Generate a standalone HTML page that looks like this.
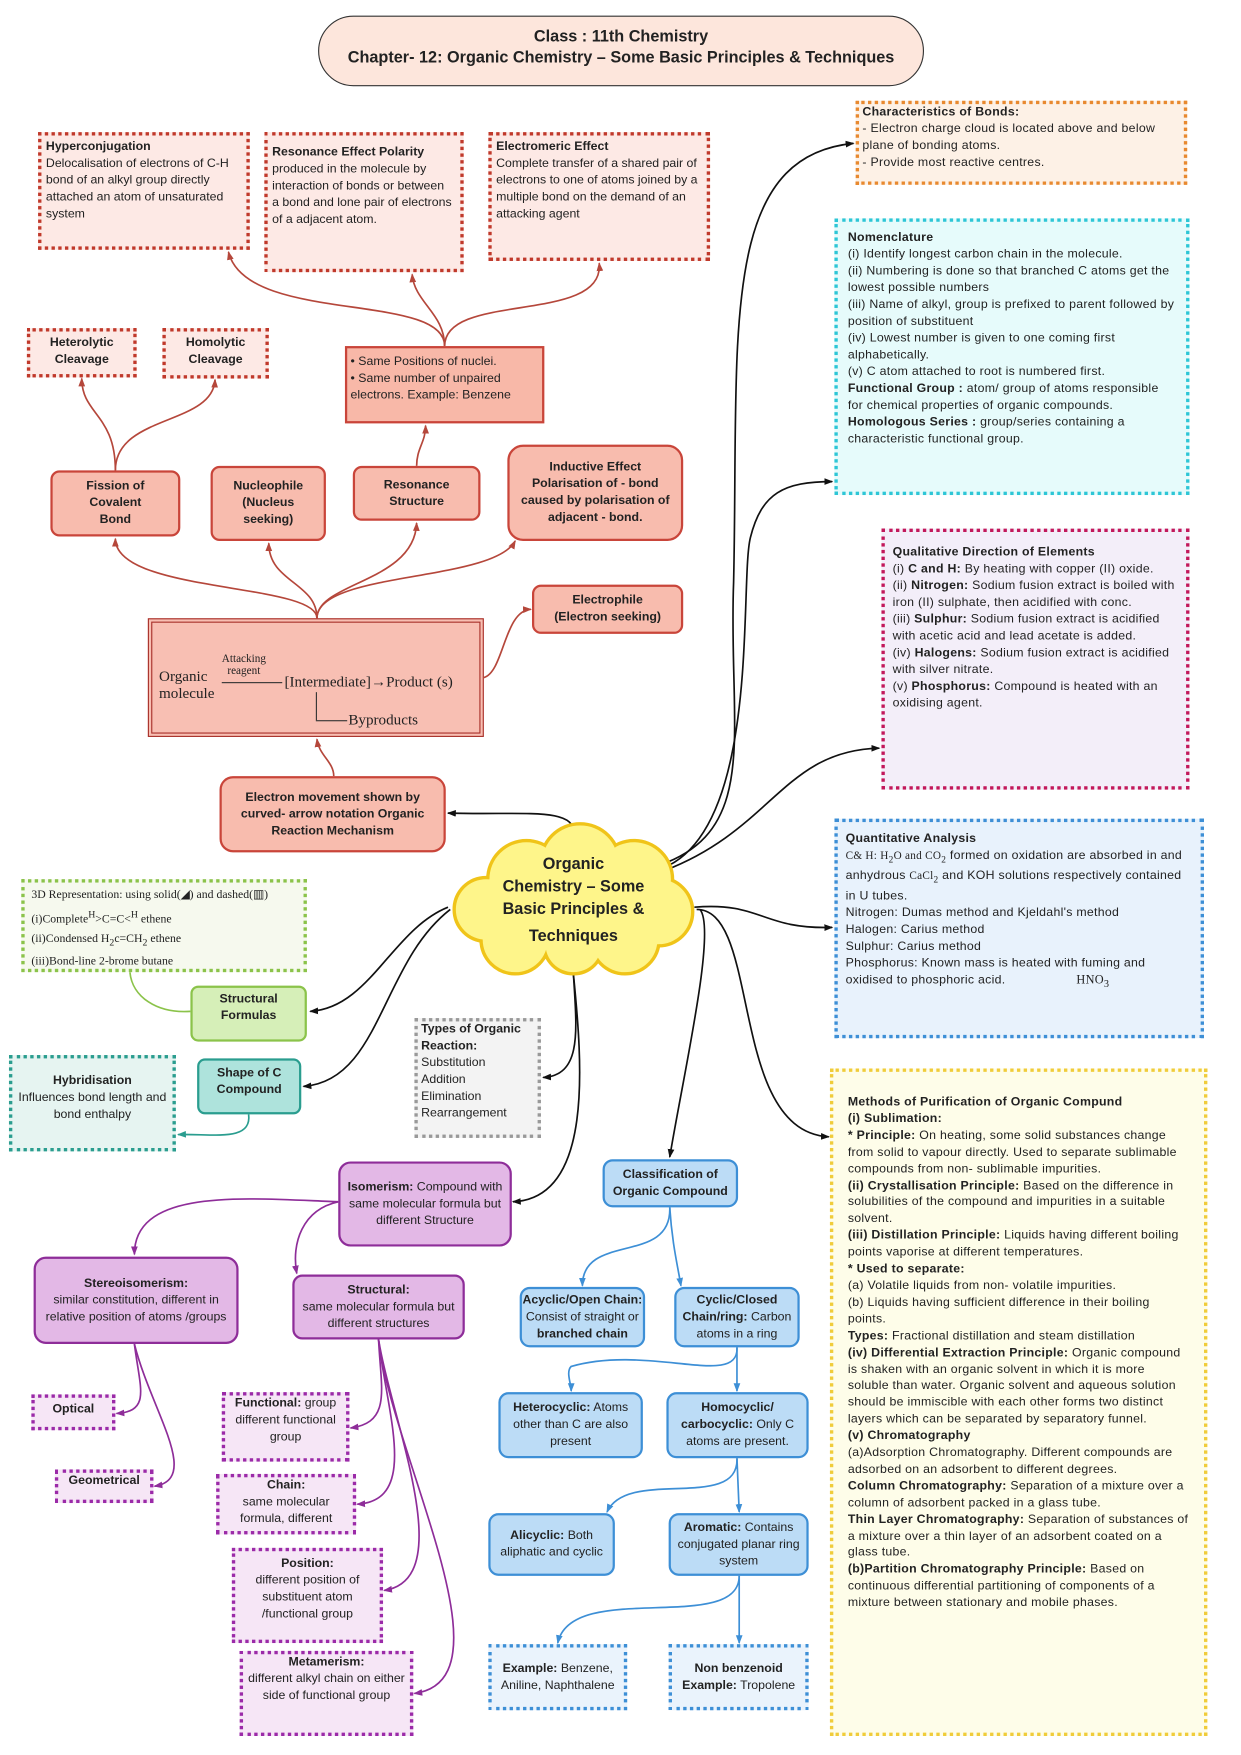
<!DOCTYPE html>
<html><head><meta charset="utf-8">
<style>
html,body{margin:0;padding:0;background:#fff;}
body{width:1241px;height:1755px;overflow:hidden;position:relative;}
#w{position:absolute;left:0;top:0;width:1108px;height:1567px;transform:scale(1.12);transform-origin:0 0;font-family:"Liberation Sans",sans-serif;font-size:11px;color:#222;line-height:15px;}
.b{position:absolute;box-sizing:border-box;}
.red{background:#f8bcae;border:2px solid #c9453a;border-radius:8px;text-align:center;font-weight:bold;display:flex;align-items:center;justify-content:center;}
.rd{background:#fde9e5;border:3px dotted #c0392b;padding:3px 4px;}
.pu{background:#e3b8e6;border:2px solid #8e2d99;border-radius:9px;text-align:center;display:flex;align-items:center;justify-content:center;}
.pd{background:#f6e6f6;border:3px dotted #9b2aa8;text-align:center;}
.bl{background:#bcdcf6;border:2px solid #3d8fd6;border-radius:9px;text-align:center;display:flex;align-items:center;justify-content:center;}
.bd{background:#eaf3fc;border:3px dotted #3d8fd6;text-align:center;}
.lt{letter-spacing:0.25px;}
b{font-weight:bold;}
svg{position:absolute;left:0;top:0;}
</style></head><body><div id="w">
<svg width="1100" height="1556" viewBox="0 0 1100 1556">
<defs>
<marker id="ak" markerWidth="8" markerHeight="8" refX="7" refY="4" orient="auto" markerUnits="userSpaceOnUse"><path d="M0,1 L8,4 L0,7 z" fill="#111"/></marker>
<marker id="ar" markerWidth="8" markerHeight="8" refX="7" refY="4" orient="auto" markerUnits="userSpaceOnUse"><path d="M0,1 L8,4 L0,7 z" fill="#b5473b"/></marker>
<marker id="ap" markerWidth="8" markerHeight="8" refX="7" refY="4" orient="auto" markerUnits="userSpaceOnUse"><path d="M0,1 L8,4 L0,7 z" fill="#8e2d99"/></marker>
<marker id="ab" markerWidth="8" markerHeight="8" refX="7" refY="4" orient="auto" markerUnits="userSpaceOnUse"><path d="M0,1 L8,4 L0,7 z" fill="#3d8fd6"/></marker>
<marker id="ag" markerWidth="8" markerHeight="8" refX="7" refY="4" orient="auto" markerUnits="userSpaceOnUse"><path d="M0,1 L8,4 L0,7 z" fill="#2a9d8f"/></marker>
</defs>
<g fill="none" stroke="#b5473b" stroke-width="1.5">
<path d="M397,309 C397,260 220,290 204,225" marker-end="url(#ar)"/>
<path d="M397,309 C397,280 370,270 368,245" marker-end="url(#ar)"/>
<path d="M397,309 C397,260 540,290 535,235" marker-end="url(#ar)"/>
<path d="M103,420 C103,370 73,370 73,338" marker-end="url(#ar)"/>
<path d="M103,420 C103,370 190,380 192,339" marker-end="url(#ar)"/>
<path d="M372,416 C372,400 380,395 380,380" marker-end="url(#ar)"/>
<path d="M283,552 C283,520 103,530 103,481" marker-end="url(#ar)"/>
<path d="M283,552 C283,520 240,520 240,485" marker-end="url(#ar)"/>
<path d="M283,552 C283,520 370,520 372,467" marker-end="url(#ar)"/>
<path d="M283,552 C283,510 440,520 460,483" marker-end="url(#ar)"/>
<path d="M432,605 C450,600 450,545 474,544" marker-end="url(#ar)"/>
<path d="M298,693 C298,680 285,675 283,660" marker-end="url(#ar)"/>
</g>
<g fill="none" stroke="#111" stroke-width="1.5">
<path d="M513,745 C513,720 470,728 400,726" marker-end="url(#ak)"/>
<path d="M590,772 C680,740 650,650 655,520 C660,300 640,140 762,128" marker-end="url(#ak)"/>
<path d="M592,775 C680,740 660,520 670,480 C680,440 700,430 743,430" marker-end="url(#ak)"/>
<path d="M594,777 C690,740 700,670 785,668" marker-end="url(#ak)"/>
<path d="M620,810 C680,805 680,830 743,828" marker-end="url(#ak)"/>
<path d="M622,812 C680,812 650,1010 740,1015" marker-end="url(#ak)"/>
<path d="M625,812 C640,830 610,960 598,1033" marker-end="url(#ak)"/>
<path d="M400,810 C350,830 330,900 277,903" marker-end="url(#ak)"/>
<path d="M402,812 C340,860 340,965 271,970" marker-end="url(#ak)"/>
<path d="M512,870 C515,920 520,960 485,962" marker-end="url(#ak)"/>
<path d="M512,870 C520,950 530,1070 458,1073" marker-end="url(#ak)"/>
</g>
<path d="M170,903 C140,905 118,890 116,868" fill="none" stroke="#8bc34a" stroke-width="1.5"/>
<path d="M222,995 C225,1020 190,1012 159,1013" fill="none" stroke="#2a9d8f" stroke-width="1.5" marker-end="url(#ag)"/>
<g fill="none" stroke="#8e2d99" stroke-width="1.5">
<path d="M302,1073 C220,1070 120,1060 120,1120" marker-end="url(#ap)"/>
<path d="M302,1073 C270,1080 260,1110 265,1137" marker-end="url(#ap)"/>
<path d="M120,1200 C125,1240 135,1260 104,1262" marker-end="url(#ap)"/>
<path d="M120,1200 C135,1260 180,1320 138,1327" marker-end="url(#ap)"/>
<path d="M338,1196 C340,1240 350,1270 313,1275" marker-end="url(#ap)"/>
<path d="M338,1196 C345,1260 375,1340 319,1343" marker-end="url(#ap)"/>
<path d="M338,1196 C350,1270 410,1410 343,1420" marker-end="url(#ap)"/>
<path d="M338,1196 C350,1300 460,1500 370,1512" marker-end="url(#ap)"/>
</g>
<g fill="none" stroke="#3d8fd6" stroke-width="1.5">
<path d="M598,1078 C600,1130 520,1100 520,1148" marker-end="url(#ab)"/>
<path d="M598,1078 C600,1110 605,1130 608,1148" marker-end="url(#ab)"/>
<path d="M658,1203 C660,1240 580,1200 510,1220 C505,1225 510,1235 510,1242" marker-end="url(#ab)"/>
<path d="M658,1203 L658,1242" marker-end="url(#ab)"/>
<path d="M658,1302 C660,1350 560,1310 542,1350" marker-end="url(#ab)"/>
<path d="M658,1302 L660,1350" marker-end="url(#ab)"/>
<path d="M660,1407 C660,1460 510,1410 498,1467" marker-end="url(#ab)"/>
<path d="M660,1407 L660,1467" marker-end="url(#ab)"/>
</g>
<g stroke="#f0c419" stroke-width="6" fill="#fef58a">
<circle cx="470" cy="785" r="33"/><circle cx="518" cy="771" r="34"/><circle cx="566" cy="785" r="33"/>
<circle cx="434" cy="812" r="27"/><circle cx="588" cy="814" r="29"/>
<circle cx="460" cy="839" r="29"/><circle cx="512" cy="843" r="25"/><circle cx="558" cy="839" r="29"/>
</g>
<g fill="#fef58a">
<circle cx="470" cy="785" r="33"/><circle cx="518" cy="771" r="34"/><circle cx="566" cy="785" r="33"/>
<circle cx="434" cy="812" r="27"/><circle cx="588" cy="814" r="29"/>
<circle cx="460" cy="839" r="29"/><circle cx="512" cy="843" r="25"/><circle cx="558" cy="839" r="29"/>
<rect x="440" y="780" width="148" height="63"/>
</g>
</svg>

<div class="b" style="left:284px;top:14px;width:541px;height:63px;border:1.5px solid #333;border-radius:32px;background:#fde6dc;text-align:center;font-weight:bold;font-size:14.5px;line-height:19px;padding-top:9px;">Class : 11th Chemistry<br>Chapter- 12: Organic Chemistry – Some Basic Principles &amp; Techniques</div>

<div class="b" style="left:402px;top:762px;width:220px;text-align:center;font-weight:bold;font-size:14.5px;line-height:20px;">Organic<br>Chemistry – Some<br>Basic Principles &amp;<br><span style="line-height:28px">Techniques</span></div>

<div class="b lt" style="left:764px;top:90px;width:296px;height:75px;background:#fdf1e6;border:3px dotted #e8892f;padding:0 3px;"><b>Characteristics of Bonds:</b><br>- Electron charge cloud is located above and below plane of bonding atoms.<br>- Provide most reactive centres.</div>

<div class="b lt" style="left:745px;top:195px;width:317px;height:247px;background:#e6fbfb;border:3px dotted #2dc6d6;padding:7px 9px;"><b>Nomenclature</b><br>(i) Identify longest carbon chain in the molecule.<br>(ii) Numbering is done so that branched C atoms get the lowest possible numbers<br>(iii) Name of alkyl, group is prefixed to parent followed by position of substituent<br>(iv) Lowest number is given to one coming first alphabetically.<br>(v) C atom attached to root is numbered first.<br><b>Functional Group :</b> atom/ group of atoms responsible for chemical properties of organic compounds.<br><b>Homologous Series :</b> group/series containing a characteristic functional group.</div>

<div class="b lt" style="left:787px;top:472px;width:275px;height:233px;background:#f3eef9;border:3px dotted #c2185b;padding:11px 7px;"><b>Qualitative Direction of Elements</b><br>(i) <b>C and H:</b> By heating with copper (II) oxide.<br>(ii) <b>Nitrogen:</b> Sodium fusion extract is boiled with iron (II) sulphate, then acidified with conc.<br>(iii) <b>Sulphur:</b> Sodium fusion extract is acidified with acetic acid and lead acetate is added.<br>(iv) <b>Halogens:</b> Sodium fusion extract is acidified with silver nitrate.<br>(v) <b>Phosphorus:</b> Compound is heated with an oxidising agent.</div>

<div class="b lt" style="left:745px;top:731px;width:330px;height:196px;background:#e8f2fc;border:3px dotted #3d8fd6;padding:8px 7px;"><b>Quantitative Analysis</b><br><span style="font-family:'Liberation Serif',serif;font-size:10px">C&amp; H: H<sub>2</sub>O and CO<sub>2</sub></span> formed on oxidation are absorbed in and anhydrous <span style="font-family:'Liberation Serif',serif;font-size:10px">CaCl<sub>2</sub></span> and KOH solutions respectively contained<br>in U tubes.<br>Nitrogen: Dumas method and Kjeldahl's method<br>Halogen: Carius method<br>Sulphur: Carius method<br>Phosphorus: Known mass is heated with fuming and oxidised to phosphoric acid. <span style="font-family:'Liberation Serif',serif;margin-left:60px">HNO<sub>3</sub></span></div>

<div class="b lt" style="left:741px;top:954px;width:337px;height:596px;background:#fefde9;border:3px dotted #f0cc3a;padding:20px 13px;line-height:14.9px;"><b>Methods of Purification of Organic Compund</b><br><b>(i) Sublimation:</b><br><b>* Principle:</b> On heating, some solid substances change from solid to vapour directly. Used to separate sublimable compounds from non- sublimable impurities.<br><b>(ii) Crystallisation Principle:</b> Based on the difference in solubilities of the compound and impurities in a suitable solvent.<br><b>(iii) Distillation Principle:</b> Liquids having different boiling points vaporise at different temperatures.<br><b>* Used to separate:</b><br>(a) Volatile liquids from non- volatile impurities.<br>(b) Liquids having sufficient difference in their boiling points.<br><b>Types:</b> Fractional distillation and steam distillation<br><b>(iv) Differential Extraction Principle:</b> Organic compound is shaken with an organic solvent in which it is more soluble than water. Organic solvent and aqueous solution should be immiscible with each other forms two distinct layers which can be separated by separatory funnel.<br><b>(v) Chromatography</b><br>(a)Adsorption Chromatography. Different compounds are adsorbed on an adsorbent to different degrees.<br><b>Column Chromatography:</b> Separation of a mixture over a column of adsorbent packed in a glass tube.<br><b>Thin Layer Chromatography:</b> Separation of substances of a mixture over a thin layer of an adsorbent coated on a glass tube.<br><b>(b)Partition Chromatography Principle:</b> Based on continuous differential partitioning of components of a mixture between stationary and mobile phases.</div>

<div class="b rd" style="left:34px;top:118px;width:189px;height:105px;"><b>Hyperconjugation</b><br>Delocalisation of electrons of C-H bond of an alkyl group directly attached an atom of unsaturated system</div>
<div class="b rd" style="left:236px;top:118px;width:178px;height:125px;padding-top:8px;"><b>Resonance Effect Polarity</b><br>produced in the molecule by interaction of bonds or between<br>a bond and lone pair of electrons of a adjacent atom.</div>
<div class="b rd" style="left:436px;top:118px;width:198px;height:115px;"><b>Electromeric Effect</b><br>Complete transfer of a shared pair of<br>electrons to one of atoms joined by a multiple bond on the demand of an attacking agent</div>
<div class="b rd" style="left:24px;top:293px;width:98px;height:44px;text-align:center;font-weight:bold;">Heterolytic<br>Cleavage</div>
<div class="b rd" style="left:145px;top:293px;width:95px;height:45px;text-align:center;font-weight:bold;">Homolytic<br>Cleavage</div>
<div class="b" style="left:308px;top:309px;width:178px;height:69px;background:#f8b8a8;border:2px solid #c9453a;padding:5px 3px;">• Same Positions of nuclei.<br>• Same number of unpaired electrons. Example: Benzene</div>
<div class="b red" style="left:45px;top:420px;width:116px;height:59px;">Fission of<br>Covalent<br>Bond</div>
<div class="b red" style="left:188px;top:416px;width:103px;height:67px;">Nucleophile<br>(Nucleus<br>seeking)</div>
<div class="b red" style="left:315px;top:416px;width:114px;height:49px;">Resonance<br>Structure</div>
<div class="b red" style="left:453px;top:397px;width:157px;height:86px;border-radius:14px;">Inductive Effect<br>Polarisation of - bond caused by polarisation of adjacent - bond.</div>
<div class="b red" style="left:475px;top:522px;width:135px;height:44px;">Electrophile<br>(Electron seeking)</div>
<div class="b" style="left:132px;top:552px;width:300px;height:106px;background:#f8bfb3;border:4px double #a8302a;font-family:'Liberation Serif',serif;font-size:13.5px;">
<div style="position:absolute;left:6px;top:40px;line-height:15px;">Organic<br>molecule</div>
<div style="position:absolute;left:62px;top:27px;font-size:10px;line-height:11px;text-align:center;">Attacking<br>reagent</div>
<div style="position:absolute;left:62px;top:53px;width:54px;border-top:1px solid #333;"></div>
<div style="position:absolute;left:118px;top:45px;">[Intermediate]→Product (s)</div>
<div style="position:absolute;left:146px;top:62px;width:1px;height:25px;background:#333;"></div>
<div style="position:absolute;left:146px;top:87px;width:28px;height:1px;background:#333;"></div>
<div style="position:absolute;left:175px;top:79px;">Byproducts</div>
</div>
<div class="b red" style="left:196px;top:693px;width:202px;height:68px;border-radius:12px;">Electron movement shown by curved- arrow notation Organic Reaction Mechanism</div>

<div class="b" style="left:19px;top:785px;width:255px;height:83px;background:#f6f9ee;border:3px dotted #8bc34a;padding:3px 6px;font-family:'Liberation Serif',serif;font-size:10.5px;line-height:17px;">3D Representation: using solid(◢) and dashed(▥)<br>(i)Complete<sup>H</sup>&gt;C=C&lt;<sup>H</sup> ethene<br>(ii)Condensed H<sub>2</sub>c=CH<sub>2</sub> ethene<br>(iii)Bond-line 2-brome butane</div>
<div class="b" style="left:170px;top:880px;width:104px;height:50px;background:#d6efb8;border:2px solid #8bc34a;border-radius:7px;text-align:center;font-weight:bold;padding-top:3px;">Structural<br>Formulas</div>
<div class="b" style="left:8px;top:942px;width:149px;height:86px;background:#e6f4f1;border:3px dotted #2a9d8f;text-align:center;padding-top:13px;"><b>Hybridisation</b><br>Influences bond length and bond enthalpy</div>
<div class="b" style="left:176px;top:945px;width:93px;height:50px;background:#aee3dc;border:2px solid #2a9d8f;border-radius:7px;text-align:center;font-weight:bold;padding-top:4px;">Shape of C<br>Compound</div>
<div class="b" style="left:370px;top:909px;width:113px;height:107px;background:#f3f3f3;border:3px dotted #999;padding:0 3px;"><b>Types of Organic Reaction:</b><br>Substitution<br>Addition<br>Elimination<br>Rearrangement</div>

<div class="b pu" style="left:302px;top:1037px;width:155px;height:76px;border-radius:11px;"><span><b>Isomerism:</b> Compound with same molecular formula but different Structure</span></div>
<div class="b pu" style="left:30px;top:1122px;width:183px;height:78px;border-radius:11px;"><span><b>Stereoisomerism:</b><br>similar constitution, different in relative position of atoms /groups</span></div>
<div class="b pu" style="left:261px;top:1138px;width:154px;height:58px;"><span><b>Structural:</b><br>same molecular formula but different structures</span></div>
<div class="b pd" style="left:28px;top:1245px;width:75px;height:32px;font-weight:bold;padding-top:3px;">Optical</div>
<div class="b pd" style="left:49px;top:1312px;width:88px;height:30px;font-weight:bold;">Geometrical</div>
<div class="b pd" style="left:198px;top:1243px;width:114px;height:62px;"><b>Functional:</b> group different functional group</div>
<div class="b pd" style="left:193px;top:1316px;width:125px;height:54px;"><b>Chain:</b><br>same molecular formula, different</div>
<div class="b pd" style="left:207px;top:1382px;width:135px;height:85px;padding-top:4px;"><b>Position:</b><br>different position of substituent atom /functional group</div>
<div class="b pd" style="left:214px;top:1474px;width:155px;height:76px;"><b>Metamerism:</b><br>different alkyl chain on either side of functional group</div>

<div class="b bl" style="left:538px;top:1035px;width:121px;height:43px;font-weight:bold;">Classification of Organic Compound</div>
<div class="b bl" style="left:464px;top:1149px;width:112px;height:54px;"><span><b>Acyclic/Open Chain:</b> Consist of straight or <b>branched chain</b></span></div>
<div class="b bl" style="left:602px;top:1149px;width:112px;height:54px;"><span><b>Cyclic/Closed Chain/ring:</b> Carbon atoms in a ring</span></div>
<div class="b bl" style="left:445px;top:1243px;width:129px;height:59px;"><span><b>Heterocyclic:</b> Atoms other than C are also present</span></div>
<div class="b bl" style="left:595px;top:1243px;width:127px;height:59px;"><span><b>Homocyclic/ carbocyclic:</b> Only C atoms are present.</span></div>
<div class="b bl" style="left:436px;top:1351px;width:113px;height:56px;"><span><b>Alicyclic:</b> Both aliphatic and cyclic</span></div>
<div class="b bl" style="left:597px;top:1351px;width:125px;height:56px;"><span><b>Aromatic:</b> Contains conjugated planar ring system</span></div>
<div class="b bd" style="left:436px;top:1468px;width:124px;height:59px;padding-top:12px;"><b>Example:</b> Benzene, Aniline, Naphthalene</div>
<div class="b bd" style="left:597px;top:1468px;width:125px;height:59px;padding-top:12px;"><b>Non benzenoid</b><br><b>Example:</b> Tropolene</div>
</div></body></html>
